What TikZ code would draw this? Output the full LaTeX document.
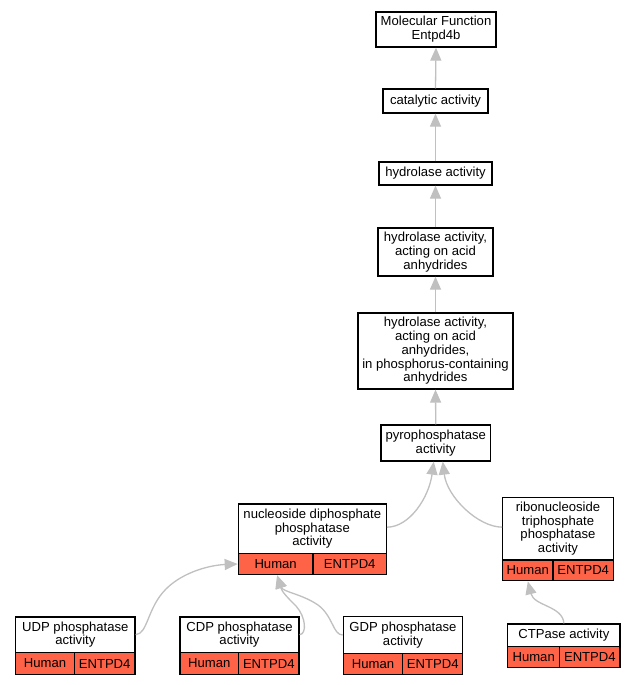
\documentclass[tikz,border=0pt]{standalone}
\usepackage{fontspec}
\setmainfont{Liberation Sans}
\usetikzlibrary{arrows.meta}
\definecolor{edgec}{RGB}{192,192,192}
\definecolor{tomatoc}{RGB}{255,99,71}
\begin{document}
\begin{tikzpicture}[x=1pt,y=-1pt,
  box/.style={draw=black, line width=1.3pt, fill=white, inner sep=0pt, align=center,
    font=\fontsize{13.1}{13.8}\selectfont, anchor=center},
  cell/.style={box, fill=tomatoc},
  wh/.style 2 args={minimum width=#1pt, minimum height=#2pt},
  edge/.style={draw=edgec, line width=1.3pt, -{Triangle[length=13pt,width=11pt,fill=edgec]}}]
\fill[white] (0,0) rectangle (636,685);
\useasboundingbox (0,0) rectangle (636,685);

% upper chain
\node[box, wh={120}{35}] (n1) at (436,29.5) {Molecular Function\\Entpd4b};
\node[box, wh={105}{24}] (n2) at (435.5,101) {catalytic activity};
\node[box, wh={113}{23}] (n3) at (435.5,173.5) {hydrolase activity};
\node[box, wh={115}{48}] (n4) at (435.5,252) {hydrolase activity,\\acting on acid\\anhydrides};
\node[box, wh={155}{76}] (n5) at (435.5,351) {hydrolase activity,\\acting on acid\\anhydrides,\\in phosphorus-containing\\anhydrides};
\node[box, wh={109.5}{36}] (n6) at (435.75,443) {pyrophosphatase\\activity};

% nucleoside diphosphate phosphatase activity
\node[box, wh={148}{49.3}] (n7) at (312.3,528.7) {nucleoside diphosphate\\phosphatase\\activity};
\node[cell, wh={74.7}{21.4}] (n7h) at (275.65,564) {Human};
\node[cell, wh={73.3}{21.4}] (n7e) at (349.65,564) {ENTPD4};

% ribonucleoside triphosphate phosphatase activity
\node[box, wh={110.6}{62.7}] (n8) at (558,528.65) {ribonucleoside\\triphosphate\\phosphatase\\activity};
\node[cell, wh={50.3}{20.7}] (n8h) at (527.85,570.35) {Human};
\node[cell, wh={60.3}{20.7}] (n8e) at (583.15,570.35) {ENTPD4};

% UDP
\node[box, wh={119.3}{35.3}] (n9) at (75.35,634.65) {UDP phosphatase\\activity};
\node[cell, wh={58.6}{22.4}] (n9h) at (45,663.5) {Human};
\node[cell, wh={60.7}{22.4}] (n9e) at (104.65,663.5) {ENTPD4};

% CDP
\node[box, wh={119}{35.3}] (n10) at (239.5,634.65) {CDP phosphatase\\activity};
\node[cell, wh={58.7}{22.4}] (n10h) at (209.35,663.5) {Human};
\node[cell, wh={60.3}{22.4}] (n10e) at (268.85,663.5) {ENTPD4};

% GDP
\node[box, wh={119.4}{36.6}] (n11) at (403,635) {GDP phosphatase\\activity};
\node[cell, wh={59.4}{21}] (n11h) at (373,663.8) {Human};
\node[cell, wh={60}{21}] (n11e) at (432.7,663.8) {ENTPD4};

% CTPase
\node[box, wh={112.3}{22.3}] (n12) at (563.85,635.15) {CTPase activity};
\node[cell, wh={52}{21.4}] (n12h) at (533.7,657) {Human};
\node[cell, wh={60.3}{21.4}] (n12e) at (589.85,657) {ENTPD4};

% edges
\draw[edge] (n2.north) -- (n1.south);
\draw[edge] (n3.north) -- (n2.south);
\draw[edge] (n4.north) -- (n3.south);
\draw[edge] (n5.north) -- (n4.south);
\draw[edge] (n6.north) -- (n5.south);

\coordinate (t76) at ([xshift=-2pt]n6.south);
\coordinate (t86) at ([xshift=7pt]n6.south);
\draw[edge] ([yshift=1.5pt]n7.east) .. controls (410,527) and (429,497) .. (t76);
\draw[edge] ([yshift=1.5pt]n8.west) .. controls (478,527) and (447,497) .. (t86);

\draw[edge] (n9.east) .. controls (148,634) and (147,608) .. (166,589)
  .. controls (184,571) and (212,565) .. (n7h.west);
\coordinate (t7b) at ([xshift=1.5pt]n7h.south);
\draw[edge] (n10.east) .. controls (307,634) and (306,617) .. (296,606)
  .. controls (288,598) and (282,592) .. (t7b);
\draw[edge] (n11.west) .. controls (333,635) and (333,616) .. (318,605)
  .. controls (302,594) and (283,592) .. (t7b);
\draw[edge] (n12.north) .. controls (563,606) and (534,606) .. (n8h.south);
\end{tikzpicture}
\end{document}
